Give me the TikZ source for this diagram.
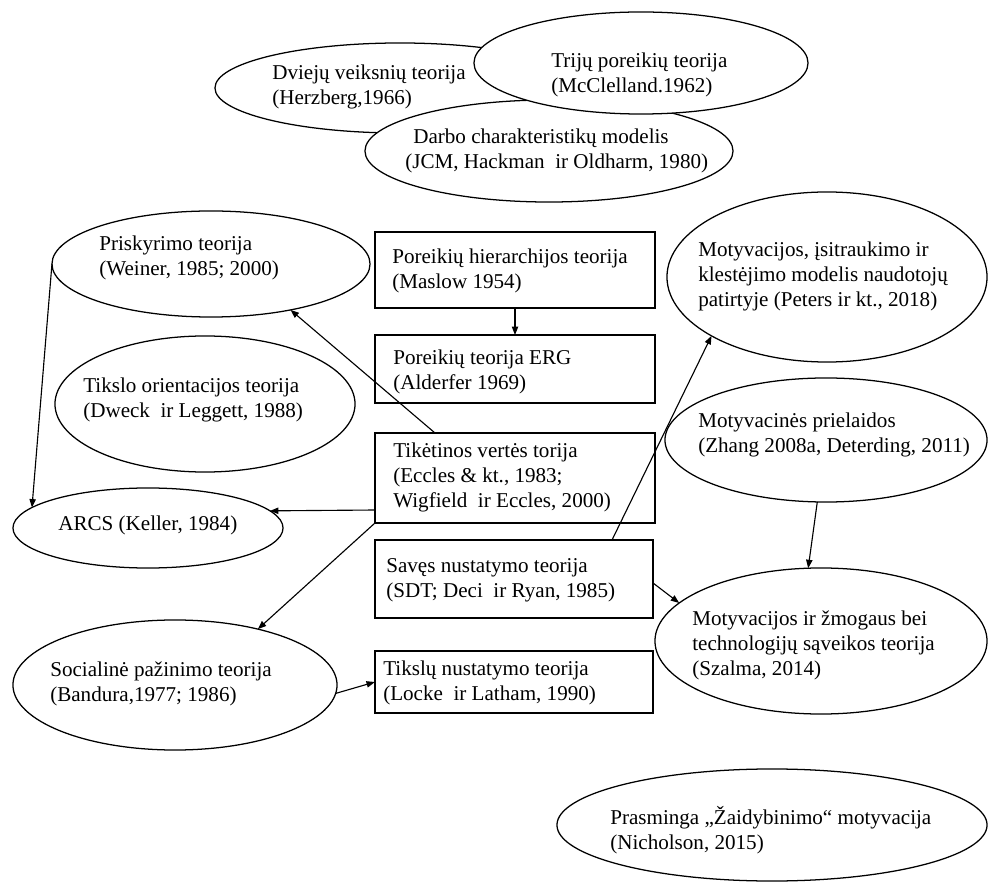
\documentclass[tikz,border=0pt]{standalone}
\usepackage{fontspec}
\setmainfont{Liberation Serif}
\usetikzlibrary{shapes.geometric,arrows.meta}

\tikzset{
  oval/.style={ellipse, draw, line width=0.9pt, fill=white, inner sep=0pt, outer sep=0pt},
  tbox/.style={rectangle, draw, line width=0.9pt, inner sep=0pt, outer sep=0pt},
  txt/.style={anchor=west, align=left, inner sep=0pt, font=\fontsize{15pt}{17.8pt}\selectfont},
  conn/.style={line width=0.8pt, -{Triangle[length=6pt,width=4.5pt]}}
}

\begin{document}
\begin{tikzpicture}[x={(0.025cm,0)}, y={(0,-0.025cm)}]
\useasboundingbox (0,0) rectangle (988,885);

% top cluster of overlapping ovals
\node[oval, minimum width=9.25cm, minimum height=2.25cm] (dv) at (400,88) {};
\node[txt] (dvt) at (272,87) {Dviejų veiksnių teorija\\(Herzberg,1966)};
\node[oval, minimum width=9.2cm, minimum height=2.55cm] (db) at (549,151) {};
\node[txt] (dbt) at (405,151) {\hspace*{0.2cm}Darbo charakteristikų modelis\\(JCM, Hackman~ ir Oldharm, 1980)};
\node[oval, minimum width=8.35cm, minimum height=2.55cm] (tr) at (641,63) {};
\node[txt] (trt) at (551,75) {Trijų poreikių teorija\\(McClelland.1962)};

% left column
\node[oval, minimum width=7.95cm, minimum height=2.65cm] (prisk) at (211,264) {};
\node[txt] (priskt) at (99,258) {Priskyrimo teorija\\(Weiner, 1985; 2000)};
\node[oval, minimum width=7.5cm, minimum height=3.4cm] (tikslo) at (205,404) {};
\node[txt] (tiksloT) at (83,400) {Tikslo orientacijos teorija\\(Dweck~ ir Leggett, 1988)};
\node[oval, minimum width=6.75cm, minimum height=2.0cm] (arcs) at (148,528) {};
\node[txt] (arcst) at (58,525) {ARCS (Keller, 1984)};
\node[oval, minimum width=8.1cm, minimum height=3.25cm] (soc) at (175,685) {};
\node[txt] (soct) at (50,684) {Socialinė pažinimo teorija\\(Bandura,1977; 1986)};

% middle column of boxes
\node[tbox, minimum width=7.0cm, minimum height=1.9cm] (pmh) at (515,270) {};
\node[txt] (pmht) at (392,271) {Poreikių hierarchijos teorija\\(Maslow 1954)};
\node[tbox, minimum width=7.0cm, minimum height=1.7cm] (erg) at (515,369) {};
\node[txt] (ergt) at (393,372) {Poreikių teorija ERG\\(Alderfer 1969)};
\node[tbox, minimum width=7.0cm, minimum height=2.25cm] (tik) at (515,478) {};
\node[txt] (tikt) at (393,477) {Tikėtinos vertės torija\\(Eccles \& kt., 1983;\\Wigfield~ ir Eccles, 2000)};
\node[tbox, minimum width=6.95cm, minimum height=1.95cm] (sav) at (514,579) {};
\node[txt] (savt) at (386,580) {Savęs nustatymo teorija\\(SDT; Deci~ ir Ryan, 1985)};
\node[tbox, minimum width=6.95cm, minimum height=1.55cm] (tk) at (514,682) {};
\node[txt] (tkt) at (383,683) {Tikslų nustatymo teorija\\(Locke~ ir Latham, 1990)};

% right column
\node[oval, minimum width=8.0cm, minimum height=4.25cm] (mie) at (827,277) {};
\node[txt] (miet) at (698,276) {Motyvacijos, įsitraukimo ir\\klestėjimo modelis naudotojų\\patirtyje (Peters ir kt., 2018)};
\node[oval, minimum width=8.05cm, minimum height=3.1cm] (mpr) at (826,440) {};
\node[txt] (mprt) at (698,435) {Motyvacinės prielaidos\\(Zhang 2008a, Deterding, 2011)};
\node[oval, minimum width=8.3cm, minimum height=3.65cm] (mhti) at (821,641) {};
\node[txt] (mhtit) at (692,645) {Motyvacijos ir žmogaus bei\\technologijų sąveikos teorija\\(Szalma, 2014)};
\node[oval, minimum width=10.75cm, minimum height=2.8cm] (pras) at (772,825) {};
\node[txt] (prast) at (610,830) {Prasminga „Žaidybinimo“ motyvacija\\(Nicholson, 2015)};

% connectors
\draw[conn] (pmh.south) -- (erg.north);
\draw[conn] ([xshift=1.5cm]tik.north west) -- (prisk.-30);
\draw[conn] ([yshift=-0.8cm]tik.west) -- (arcs.8);
\draw[conn] (tik.south west) -- (soc.34);
\draw[conn] (prisk.west) -- (arcs.170);
\draw[conn] ([xshift=-1.025cm]sav.north east) -- (mie.207);
\draw[conn] (mpr.-98) -- (mhti.100);
\draw[conn] ([yshift=-0.1cm]sav.east) -- (mhti.165);
\draw[conn] (soc.-3) -- (tk.west);
\end{tikzpicture}
\end{document}
